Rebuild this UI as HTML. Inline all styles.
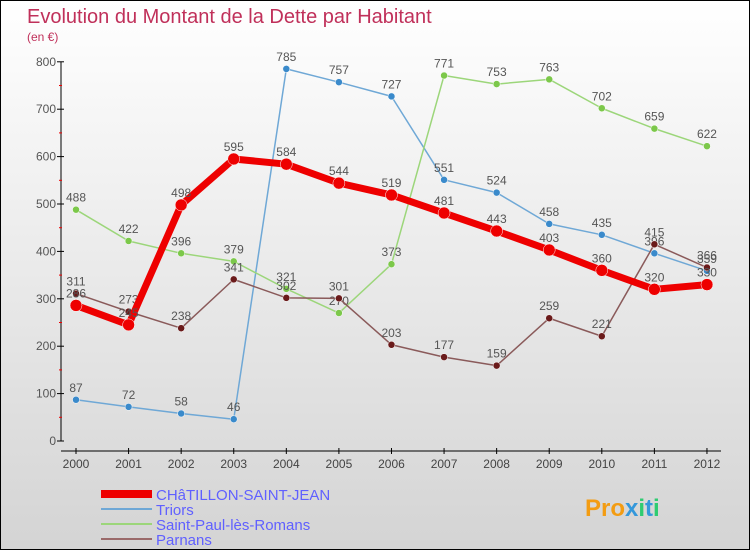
<!DOCTYPE html>
<html><head><meta charset="utf-8"><style>
body{margin:0}
#c{width:748px;height:548px;border:1px solid #000;background:linear-gradient(#fff,#d4d4d4);position:relative;font-family:"Liberation Sans",sans-serif;overflow:hidden}
</style></head><body>
<div id="c">
<svg id="s" width="748" height="548" xmlns="http://www.w3.org/2000/svg">
<text x="26" y="22" font-size="20" fill="#c0305a">Evolution du Montant de la Dette par Habitant</text>
<text x="26" y="40" font-size="12" fill="#c0305a">(en €)</text>
<g id="axes"></g><g id="series"></g>
<g>
<rect x="100" y="489" width="51" height="8" fill="#e00"/>
<text x="155" y="499" font-size="15" fill="#6060ff">CHâTILLON-SAINT-JEAN</text>
<rect x="100" y="507" width="51" height="2" fill="#6fa8d6"/>
<text x="155" y="514" font-size="15" fill="#6060ff">Triors</text>
<rect x="100" y="522" width="51" height="2" fill="#9cd67a"/>
<text x="155" y="529" font-size="15" fill="#6060ff">Saint-Paul-lès-Romans</text>
<rect x="100" y="537" width="51" height="2" fill="#9a6a6a"/>
<text x="155" y="544" font-size="15" fill="#6060ff">Parnans</text>
</g>
<text x="584" y="515" font-size="24" font-weight="bold" fill="#f39c12">Pro<tspan fill="#3498db">x</tspan><tspan fill="#2ecc71">i</tspan><tspan fill="#3498db">t</tspan><tspan fill="#2ecc71">i</tspan></text>
</svg></div>
<script>
const years=["2000","2001","2002","2003","2004","2005","2006","2007","2008","2009","2010","2011","2012"];
const yTicks=[0,50,100,150,200,250,300,350,400,450,500,550,600,650,700,750,800];
const chatillon=[286,245,498,595,584,544,519,481,443,403,360,320,330];
const triors=[87,72,58,46,785,757,727,551,524,458,435,396,359];
const saintPaul=[488,422,396,379,321,270,373,771,753,763,702,659,622];
const parnans=[311,273,238,341,302,301,203,177,159,259,221,415,366];
const NS="http://www.w3.org/2000/svg";
const X=i=>75+i*52.58, Y=v=>440-v*0.474;
function mk(t,a,p){const e=document.createElementNS(NS,t);for(const k in a)e.setAttribute(k,a[k]);p.appendChild(e);return e;}
const ax=document.getElementById('axes');
let l=mk('line',{x1:60,y1:Y(0),x2:60,y2:Y(800),stroke:'#000'},ax);


l=mk('line',{x1:60,y1:450,x2:720,y2:450,stroke:'#000'},ax);


yTicks.forEach((v,i)=>{
 if(i%2==0){mk('line',{x1:56,x2:63,y1:Y(v),y2:Y(v),stroke:'#000'},ax);
 const t=mk('text',{x:55,y:Y(v)+4,'font-size':12,fill:'#555','text-anchor':'end'},ax);t.textContent=v;
 
 }
 else mk('line',{x1:58,x2:61,y1:Y(v),y2:Y(v),stroke:'#e00'},ax);
});
years.forEach((y,i)=>{
 mk('line',{x1:X(i),x2:X(i),y1:447,y2:453,stroke:'#000'},ax);
 const t=mk('text',{x:X(i),y:467,'font-size':12,fill:'#444','text-anchor':'middle'},ax);t.textContent=y;
 
 
});
const sg=document.getElementById('series');
function series(d,name,col,dot,w,r){
 const g=mk('g',{},sg);
 
 
 mk('polyline',{points:d.map((v,i)=>X(i)+','+Y(v)).join(' '),fill:'none',stroke:col,'stroke-width':w,'stroke-linejoin':'round'},g);
 d.forEach((v,i)=>{
  const c=mk('circle',{cx:X(i),cy:Y(v),r:r,fill:dot,stroke:'#fff','stroke-width':0.5},g);
  
  
  const t=mk('text',{x:X(i),y:Y(v)-8,'font-size':12,fill:'#555','text-anchor':'middle'},g);t.textContent=v;
  
  
 });
}
series(triors,'series-triors','#6fa8d6','#3a8acb',1.5,3.5);
series(saintPaul,'series-saint-paul','#9cd67a','#7cc84a',1.5,3.5);
series(parnans,'series-parnans','#8a5a5a','#6a1a1a',1.5,3.5);
series(chatillon,'series-chatillon','#e00','#e00',7,6);
</script>
</body></html>
